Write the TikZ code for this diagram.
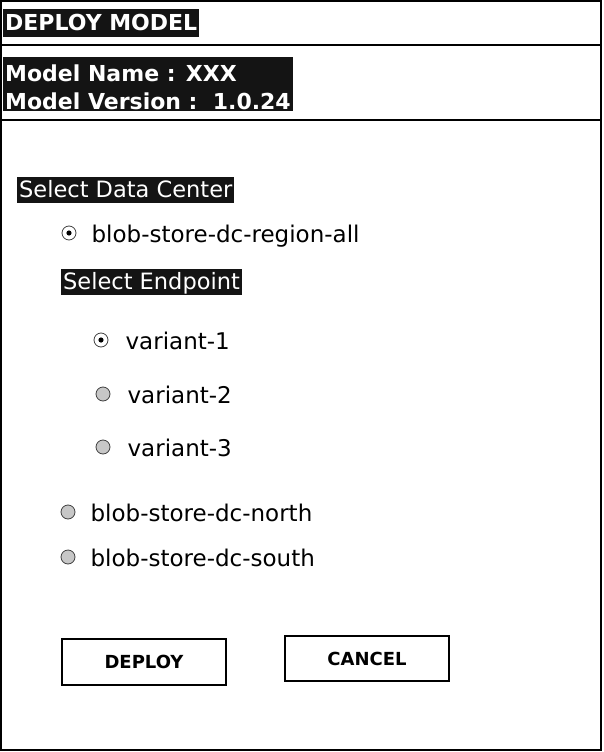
\documentclass[tikz,border=0pt]{standalone}
\usepackage{fontspec}
\setmainfont{DejaVu Sans}
\usetikzlibrary{positioning}
\tikzset{frame/.style={draw, line width=1.5pt}, tag/.style={fill=black!92, text=white, anchor=north west, inner xsep=2pt, inner ysep=1pt, text height=19pt, text depth=5pt, font=\fontsize{22.5}{26}\selectfont}, heading/.style={tag, inner ysep=3pt, text height=18pt, text depth=4pt, font=\bfseries\fontsize{22}{28}\selectfont}, radio/.style={circle, draw=black!75, fill=black!22, thick, minimum size=14pt, inner sep=0pt}, picked/.style={radio, fill=white, path picture={\fill[black] (path picture bounding box.center) circle (2.6pt);}}, choice/.style={inner sep=0pt, text height=22pt, text depth=3pt, font=\fontsize{23}{26}\selectfont}, button/.style={draw, line width=1.2pt, minimum width=164pt, minimum height=46pt, font=\bfseries\fontsize{18}{20}\selectfont}}

\begin{document}
\begin{tikzpicture}[x=1pt, y=-1pt]
    \useasboundingbox (0,0) rectangle (603,752);
    \draw[frame] (1,1) rectangle (601,45);
    \draw[frame] (1,45) rectangle (601,120);
    \draw[frame] (1,120) rectangle (601,750);
    \node[heading] (title) at (3,9) {DEPLOY MODEL};
    \node[heading, text height=, text depth=, align=left, inner ysep=1pt] (info) at (3,57) {\rule{0pt}{23pt}Model Name : XXX\\Model Version :\ \ 1.0.24};
    \node[tag] (dcLabel) at (17,177) {Select Data Center};
    \node[picked] (dcAll) at (69,233) {};
    \node[choice, right=15pt of dcAll] (dcAllText) {blob-store-dc-region-all};
    \node[tag] (epLabel) at (61,269) {Select Endpoint};
    \node[picked] (var1) at (101,340) {};
    \node[choice, right=17pt of var1] (var1Text) {variant-1};
    \node[radio] (var2) at (103,394) {};
    \node[choice, right=17pt of var2] (var2Text) {variant-2};
    \node[radio] (var3) at (103,447) {};
    \node[choice, right=17pt of var3] (var3Text) {variant-3};
    \node[radio] (dcNorth) at (68,512) {};
    \node[choice, right=15pt of dcNorth] (dcNorthText) {blob-store-dc-north};
    \node[radio] (dcSouth) at (68,557) {};
    \node[choice, right=15pt of dcSouth] (dcSouthText) {blob-store-dc-south};
    \node[button] (deployBtn) at (144,662) {DEPLOY};
    \node[button, minimum height=45pt] (cancelBtn) at (367,658.5) {CANCEL};
\end{tikzpicture}
\end{document}
